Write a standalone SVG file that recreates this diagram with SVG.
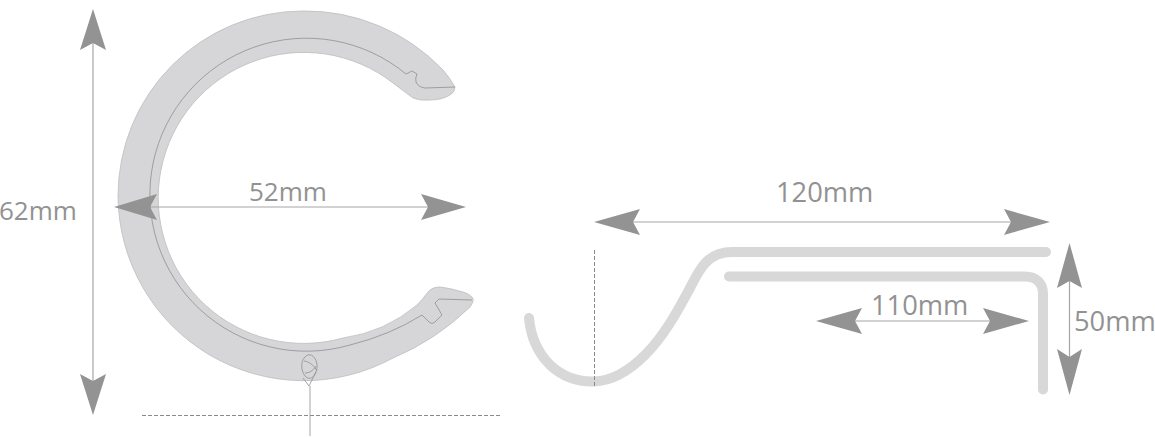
<svg xmlns="http://www.w3.org/2000/svg" width="1155" height="437" viewBox="0 0 1155 437">
<style>
.ring{fill:#d6d6d8;stroke:#bdbdbe;stroke-width:.8}
.thin{fill:none;stroke:#8f8f90;stroke-width:.8}
.dash{fill:none;stroke:#8a8a8a;stroke-width:1;stroke-dasharray:4 2}
.hook{fill:none;stroke:#d8d8d9;stroke-width:10;stroke-linecap:round;stroke-linejoin:round}
.dim{fill:none;stroke:#a6a6a6;stroke-width:1.200}
.head{fill:#939393}
text{font-family:"Open Sans","Liberation Sans",sans-serif;font-size:26px;fill:#929292}
.big{font-size:27.300px}
</style>
<g id="ring">
<path class="ring" d="M455 87Q450 78 443 70A190 190 0 0 0 303 11A185 185 0 0 0 118 196A186 186 0 0 0 393 358Q436 340 470 307Q475 300 472 297Q468 293 463 292Q450 288 440 287Q432 287 428 292Q422 300 417 305Q385 332 343 338A145.500 145.500 0 1 1 393 83Q405 92 413 98Q420 101 430 100Q442 100 450 95Q455 92 455 87Z"/>
<path class="thin" d="M455 87L425 88Q418 87 416 82Q415 78 417 74L412 71L406 74A156.500 156.500 0 1 0 350 345Q390 335 422 315L429 322Q432 325 435 322L442 315L435 303L439 299L472 300"/>
<path class="thin" d="M305 357C300 362 301 372 306 377C312 382 318 372 317 364C315 354 308 353 305 357M304 361C308 361 315 366 317 371M305 373C309 373 313 371 316 366M303 378L309 386L316 372M310 386L310 436"/>
</g>
<g id="baseline"><path class="dash" d="M142 415.500H501"/></g>
<g id="hook">
<path class="hook" d="M529 318C531 340 540 355 550 365C562 376 578 382 594 381.500C612 381 630 370 645 355C665 335 678 310 690 288C700 268 708 252 732 252L1046 252"/>
<path class="hook" d="M729 276.500L1025 276.500C1036 276.500 1043 283 1043 294L1043 389.500"/>
<path class="dash" d="M594.500 250V388"/>
</g>
<g id="connectors">
<path class="dim" d="M93 40V385"/>
<path class="head" d="M93 9L106 50L93 43L80 50Z"/>
<path class="head" d="M93 415L80 374L93 381L106 374Z"/>
<path class="dim" d="M150 207H430"/>
<path class="head" d="M114 207L157 194L150 207L157 220Z"/>
<path class="head" d="M466 207L421 194L428 207L421 220Z"/>
<path class="dim" d="M630 222H1015"/>
<path class="head" d="M594 222L640 209L633 222L640 235Z"/>
<path class="head" d="M1050 222L1004 209L1011 222L1004 235Z"/>
<path class="dim" d="M850 321H995"/>
<path class="head" d="M816 321L862 308L855 321L862 334Z"/>
<path class="head" d="M1029 321L983 308L990 321L983 334Z"/>
<path class="dim" d="M1069.500 270V365"/>
<path class="head" d="M1069.500 243L1082 288L1069.500 281L1057 288Z"/>
<path class="head" d="M1069.500 395L1057 349L1069.500 357L1082 349Z"/>
</g>
<g id="labels">
<text x="-1" y="220">62mm</text>
<text x="249" y="201">52mm</text>
<text class="big" x="776" y="202">120mm</text>
<text class="big" x="871" y="315">110mm</text>
<text class="big" x="1074" y="331">50mm</text>
</g>
</svg>
